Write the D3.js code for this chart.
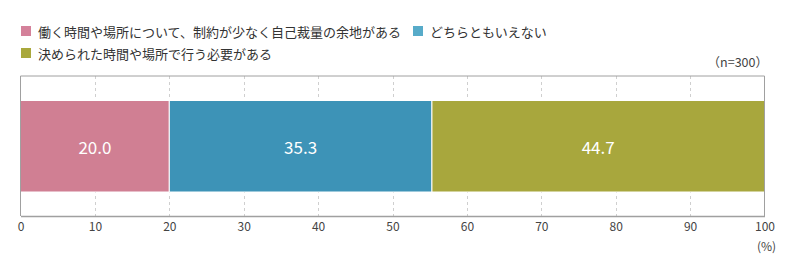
<!DOCTYPE html>
<html><head><meta charset="utf-8">
<script src="https://cdn.jsdelivr.net/npm/d3@7"></script>
<style>body{margin:0;background:#fff}svg{display:block;font-family:"Noto Sans CJK JP","Noto Sans",sans-serif}</style>
</head><body><svg id="c" width="790" height="264"></svg>
<script>
const categories = ["働く時間や場所について、制約が少なく自己裁量の余地がある", "どちらともいえない", "決められた時間や場所で行う必要がある"];
const values = [20.0, 35.3, 44.7];
const colors = ["#d07f93", "#3d93b7", "#a8a73d"];
const legendColors = ["#d4819a", "#57abc9", "#a9a83c"];
const ticks = [0,10,20,30,40,50,60,70,80,90,100];

(function(){
const svg = d3.select("#c");
const x = d3.scaleLinear().domain([0,100]).range([20.5, 764.5]);
const plotTop = 76, plotBottom = 216, barTop = 100.5, barBot = 192;

// grid
svg.append("g").selectAll("line").data(ticks.slice(1,-1)).join("line")
  .attr("x1", d=>Math.round(x(d))+0.5).attr("x2", d=>Math.round(x(d))+0.5)
  .attr("y1", plotTop).attr("y2", plotBottom)
  .attr("stroke", "#cfcfcf").attr("stroke-dasharray", "3,3");

// bars
let cum = 0;
const segs = values.map((v,i)=>{const s={v,i,start:cum}; cum+=v; return s;});
svg.append("g").selectAll("rect").data(segs).join("rect")
  .attr("x", d=>x(d.start)).attr("width", d=>x(d.start+d.v)-x(d.start))
  .attr("y", barTop).attr("height", barBot-barTop)
  .attr("fill", d=>colors[d.i]).attr("stroke", "#fff").attr("stroke-width", 1);
svg.append("g").selectAll("text").data(segs).join("text")
  .attr("x", d=>x(d.start+d.v/2)).attr("y", (barTop+barBot)/2)
  .attr("text-anchor","middle").attr("dominant-baseline","central")
  .attr("fill","#fff").attr("font-size",17).text(d=>d.v.toFixed(1));

// frame
svg.append("path").attr("d", `M${x(0)},${plotBottom}V${plotTop}H${x(100)}V${plotBottom}`)
  .attr("fill","none").attr("stroke","#a0a0a0").attr("stroke-width",1);

// axis
const ax = svg.append("g").attr("transform", `translate(0,${plotBottom})`)
  .call(d3.axisBottom(x).tickValues(ticks).tickSize(0).tickPadding(6));
ax.select(".domain").attr("stroke","#a0a0a0").attr("stroke-width",1.5);
ax.selectAll("text").attr("font-size",12).attr("fill","#444").style("font-family",'"Noto Sans CJK JP",sans-serif');
svg.append("text").attr("x", x(100)+2).attr("y", 245).attr("text-anchor","middle")
  .attr("dominant-baseline","central").attr("font-size",12).attr("fill","#444").text("(%)");

// legend
const legPos = [[21,31],[413,31],[21,53]];
const lg = svg.append("g").selectAll("g").data(categories).join("g")
  .attr("transform",(d,i)=>`translate(${legPos[i][0]},${legPos[i][1]})`);
lg.append("rect").attr("x",0).attr("y",-5).attr("width",10).attr("height",10).attr("fill",(d,i)=>legendColors[i]);
lg.append("text").attr("x",17).attr("y",0).attr("dominant-baseline","central")
  .attr("font-size",13).attr("fill","#333").text(d=>d);

svg.append("text").attr("x",768).attr("y",61).attr("text-anchor","end")
  .attr("dominant-baseline","central").attr("font-size",12.5).attr("fill","#444").text("（n=300）");
})();
</script></body></html>
